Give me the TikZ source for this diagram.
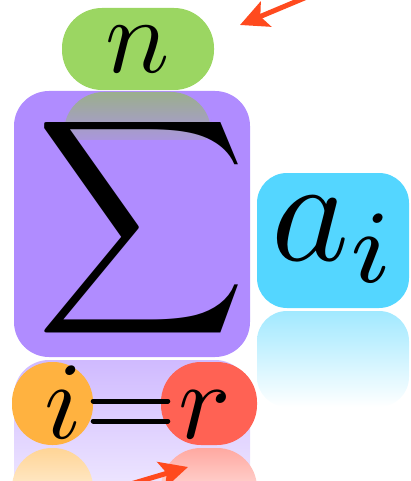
\documentclass[tikz,border=0pt]{standalone}
\usepackage{graphicx}
\usetikzlibrary{arrows.meta}
\definecolor{cgreen}{RGB}{155,214,98}
\definecolor{cpurple}{RGB}{176,140,255}
\definecolor{ccyan}{RGB}{84,214,255}
\definecolor{corange}{RGB}{255,178,64}
\definecolor{cred}{RGB}{255,98,84}
\definecolor{carrow}{RGB}{255,74,30}
\definecolor{cgrefl}{RGB}{155,175,140}
\begin{document}
\begin{tikzpicture}[x=1pt,y=-1pt,
  tile/.style={rectangle, inner sep=0pt, draw=none},
  lbl/.style={inner sep=0pt, anchor=base},
  eqline/.style={line width=5pt, line cap=round, black},
  pointer/.style={carrow, line width=5pt, -{Stealth[length=28pt,width=27pt,inset=6pt]}},
]
\useasboundingbox (0,0) rectangle (411,481);
\clip (0,0) rectangle (411,481);

% reflections of the big tiles
\begin{scope}
  \clip (0,360) rectangle (411,481);
  \shade[top color=cpurple!60!white, middle color=white, bottom color=white, rounded corners=35pt] (14,360) rectangle (250,560);
\end{scope}
\shade[top color=ccyan!55!white, middle color=white, bottom color=white, rounded corners=30pt] (257,311) rectangle (409,407);

% tiles
\node[tile, fill=cpurple, minimum width=236pt, minimum height=266pt, rounded corners=35pt] (sbox) at (132,224) {};
\begin{scope}
  \clip (60,92) rectangle (215,140);
  \shade[top color=cgrefl, middle color=cpurple, bottom color=cpurple, rounded corners=40pt] (64,92) rectangle (211,160);
\end{scope}
\node[tile, fill=cgreen, minimum width=152pt, minimum height=82pt, rounded corners=40pt] (nbox) at (138,49) {};
\node[tile, fill=ccyan, minimum width=152pt, minimum height=135pt, rounded corners=30pt] (abox) at (333,240.5) {};

% small tile reflections
\shade[top color=corange!55!white, middle color=white, bottom color=white, rounded corners=40pt] (12,448) rectangle (93,530);
\shade[top color=cred!55!white, middle color=white, bottom color=white, rounded corners=40pt] (161,448) rectangle (257,530);

\node[tile, fill=corange, minimum width=81pt, minimum height=83pt, rounded corners=40pt] (obox) at (52.5,403.5) {};
\node[tile, fill=cred, minimum width=96pt, minimum height=83pt, rounded corners=40pt] (rbox) at (209,403.5) {};

% labels
\node[inner sep=0pt] (sigma) at (141.5,228) {\scalebox{1.104}[1.14]{\resizebox*{!}{211pt}{$\displaystyle\sum$}}};
\node[lbl] (nlbl) at (138,73) {\scalebox{10.7}{$n$}};
\node[lbl] (albl) at (335,260) {\scalebox{14.8}{$a_i$}};
\node[lbl] (ilbl) at (63,438) {\scalebox{11}{$i$}};
\node[lbl] (rlbl) at (205,438) {\scalebox{11}{$r$}};

% equals sign
\draw[eqline] ([yshift=2.5pt]obox.east) -- ([xshift=7pt,yshift=2.5pt]rbox.west);
\draw[eqline] ([yshift=-17.5pt]obox.east) -- ([xshift=7pt,yshift=-17.5pt]rbox.west);

% pointers
\coordinate (p1s) at (314,-6);
\coordinate (p1e) at (240,25);
\coordinate (p2s) at (124,486);
\coordinate (p2e) at (188,467);
\draw[pointer] (p1s) -- (p1e);
\draw[pointer] (p2s) -- (p2e);
\end{tikzpicture}
\end{document}
